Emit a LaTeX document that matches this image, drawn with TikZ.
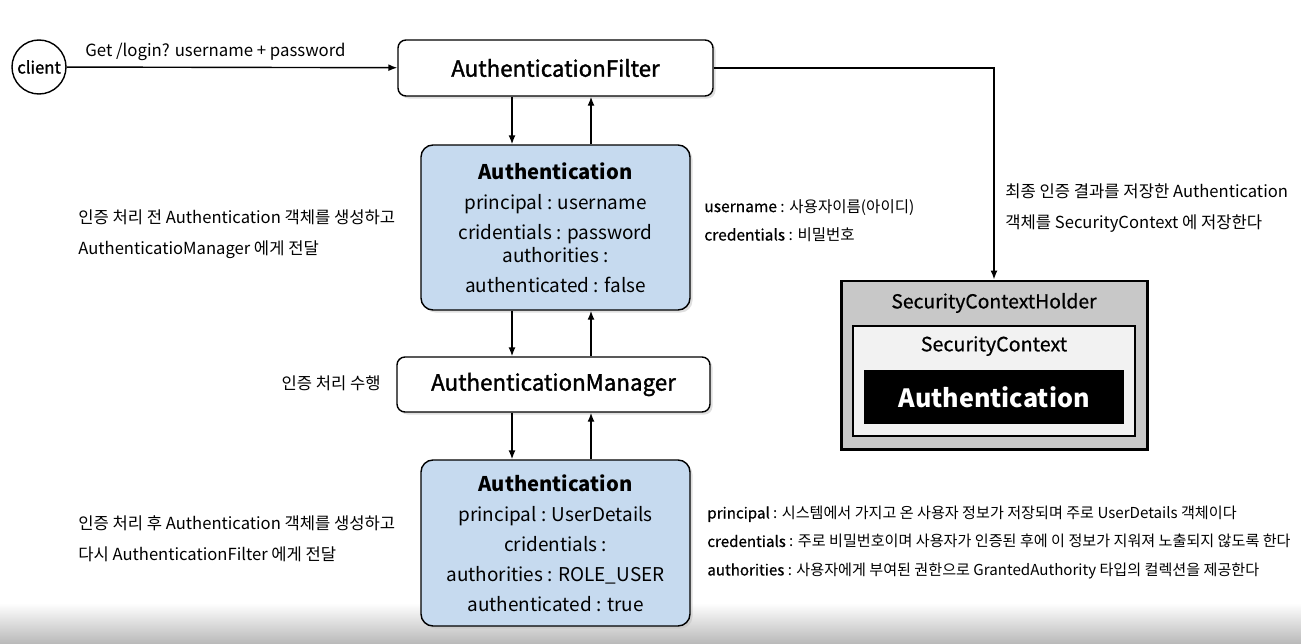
\documentclass[tikz,border=0pt]{standalone}
\usepackage{fontspec}
\setmainfont{Noto Sans CJK KR}
\newfontfamily\semifont[FakeBold=1.5]{Noto Sans CJK KR}
\newfontfamily\keyfont[FakeBold=0.6]{Noto Sans CJK KR}
\usetikzlibrary{positioning, calc, arrows.meta, shadows}
\definecolor{authblue}{HTML}{C6DAEF}
\definecolor{holdergray}{HTML}{C8C8C8}
\definecolor{ctxgray}{HTML}{F2F2F2}

\begin{document}
\begin{tikzpicture}[x=0.2mm, y=-0.2mm,
        box/.style={% For the white boxes
            rectangle,
            rounded corners=1.6mm,
            draw,
            thick,
            fill=white,
            drop shadow={shadow xshift=0.5mm, shadow yshift=-0.5mm, fill=black!25},
            font=\fontsize{12.7}{15}\semifont,
            },
        authbox/.style={% For the blue Authentication boxes
            box,
            rounded corners=2.4mm,
            fill=authblue,
            minimum width=53.8mm,
            align=center,
            font=\fontsize{10.8}{17.1}\selectfont,
            },
        clientnode/.style={% For the client
            circle,
            draw,
            thick,
            minimum size=10.8mm,
            inner sep=0pt,
            font=\fontsize{9.5}{11}\semifont,
            },
        note/.style={% For the texts beside the boxes
            align=left,
            inner sep=0pt,
            font=\fontsize{9.45}{17.6}\selectfont,
            },
        smallnote/.style={% For the field notes
            note,
            font=\fontsize{8.6}{16.2}\selectfont,
            },
        arr/.style={% Arrows
            -{Latex[length=1.8mm,width=1.4mm]},
            thick,
            },
            ]
        \useasboundingbox (0,0) rectangle (1301,643);
        % the grey band at the bottom
        \shade[top color=white, bottom color=black!27] (0,603) rectangle (1301,643);

        \node[clientnode] (client) at (39,67) {client};
        \node[box, minimum width=63mm, minimum height=11.2mm] (filter) at (555.5,68) {AuthenticationFilter};
        \node[authbox, minimum height=33mm] (auth1) at (555.5,227.5) {{\fontsize{11.5}{14}\bfseries Authentication}\\ principal : username\\ cridentials : password\\[-4pt] authorities :\\ authenticated : false};
        \node[box, minimum width=62.6mm, minimum height=11mm] (manager) at (553.5,384.5) {AuthenticationManager};
        \node[authbox, minimum height=33.2mm] (auth2) at (555.5,543) {{\fontsize{11.5}{14}\bfseries Authentication}\\ principal : UserDetails\\ cridentials :\\ authorities : ROLE\_USER\\ authenticated : true};

        % Security context holder
        \node[draw, line width=1.7pt, fill=holdergray, minimum width=61.2mm, minimum height=33.6mm] (holder) at (994,365) {};
        \node[font=\fontsize{11}{13}\keyfont] (holdertext) at (994,303) {SecurityContextHolder};
        \node[draw, thick, fill=ctxgray, minimum width=56.4mm, minimum height=22mm] (context) at (994,381) {};
        \node[font=\fontsize{11.2}{13}\keyfont] (contexttext) at (994,346) {SecurityContext};
        \node[fill=black, text=white, minimum width=52mm, minimum height=10.8mm, font=\fontsize{14.3}{17}\bfseries] (authfinal) at (994,397) {Authentication};

        % notes
        \node[note, anchor=west] (note1) at (78,234.5) {인증 처리 전 Authentication 객체를 생성하고\\ AuthenticatioManager 에게 전달};
        \node[note, anchor=east] (note2) at (381,383) {인증 처리 수행};
        \node[note, anchor=west] (note3) at (78,539) {인증 처리 후 Authentication 객체를 생성하고\\ 다시 AuthenticationFilter 에게 전달};
        \node[note, anchor=west] (note4) at (1005,208) {최종 인증 결과를 저장한 Authentication\\ 객체를 SecurityContext 에 저장한다};
        \node[smallnote, anchor=west, font=\fontsize{8.85}{16.2}\selectfont] (fields1) at (704,220.5) {{\keyfont username} : 사용자이름(아이디)\\ {\keyfont credentials} : 비밀번호};
        \node[smallnote, anchor=west] (fields2) at (707,542.5) {{\keyfont principal} : 시스템에서 가지고 온 사용자 정보가 저장되며 주로 UserDetails 객체이다\\ {\keyfont credentials} : 주로 비밀번호이며 사용자가 인증된 후에 이 정보가 지워져 노출되지 않도록 한다\\ {\keyfont authorities} : 사용자에게 부여된 권한으로 GrantedAuthority 타입의 컬렉션을 제공한다};

        \coordinate (dx) at (512,0);
        \coordinate (ux) at (591,0);
        \draw[arr] (client) -- node[above, pos=0.45, font=\fontsize{9.55}{11}\selectfont] (getlabel) {Get /login? username + password} (filter);
        \draw[arr] (filter.south -| dx) -- (auth1.north -| dx);
        \draw[arr] (auth1.north -| ux) -- (filter.south -| ux);
        \draw[arr] (auth1.south -| dx) -- (manager.north -| dx);
        \draw[arr] (manager.north -| ux) -- (auth1.south -| ux);
        \draw[arr] (manager.south -| dx) -- (auth2.north -| dx);
        \draw[arr] (auth2.north -| ux) -- (manager.south -| ux);
        \draw[arr] (filter.east) -| (holder.north);
\end{tikzpicture}
\end{document}
